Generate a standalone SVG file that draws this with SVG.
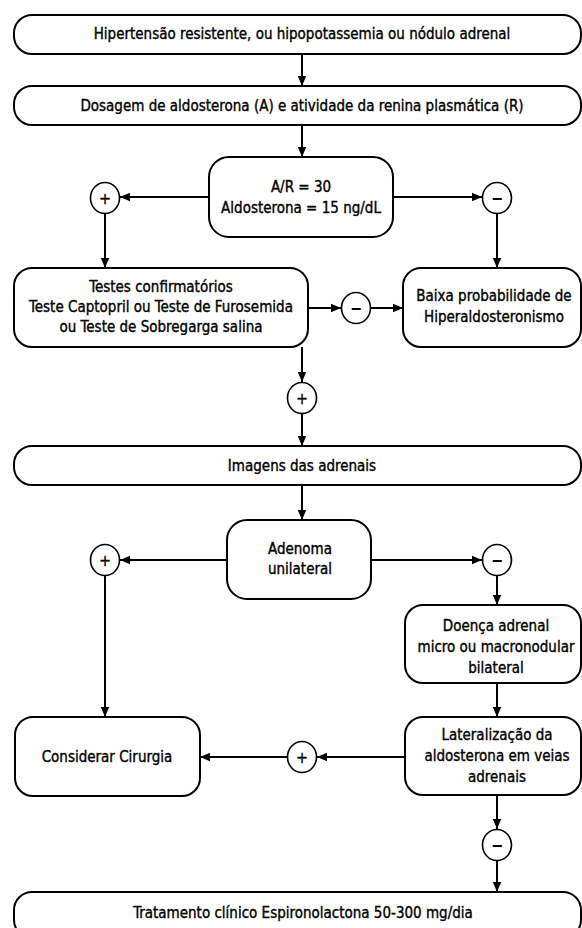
<svg xmlns="http://www.w3.org/2000/svg" width="582" height="928" viewBox="0 0 582 928">
<defs>
<marker id="ah" markerUnits="userSpaceOnUse" markerWidth="10" markerHeight="10" refX="10" refY="5" orient="auto">
<path d="M0,0.8 L10,5 L0,9.2 z" fill="#000"/>
</marker>
<style>
.box{fill:#fff;stroke:#000;stroke-width:2}
.sym{fill:#fff;stroke:#000;stroke-width:1.6}
.t{font-family:'DejaVu Sans Condensed','DejaVu Sans',sans-serif;font-stretch:condensed;font-size:15px;fill:#000;stroke:#000;stroke-width:0.35;text-anchor:middle}
.s{font-family:'DejaVu Sans Condensed','DejaVu Sans',sans-serif;font-size:16px;fill:#000;stroke:#000;stroke-width:0.3;text-anchor:middle}
.m{font-family:'DejaVu Sans Condensed','DejaVu Sans',sans-serif;font-size:16px;font-weight:bold;fill:#000;text-anchor:middle}
.c{fill:none;stroke:#000;stroke-width:2;marker-end:url(#ah)}
</style>
</defs>
<rect width="582" height="928" fill="#fff"/>
<g id="connectors">
<line class="c" x1="302" y1="54" x2="302" y2="86"/>
<line class="c" x1="302" y1="125" x2="302" y2="157"/>
<line class="c" x1="209" y1="197" x2="120" y2="197"/>
<line class="c" x1="393" y1="197" x2="482" y2="197"/>
<line class="c" x1="105" y1="214" x2="105" y2="268"/>
<line class="c" x1="497" y1="214" x2="497" y2="268"/>
<line class="c" x1="308" y1="308" x2="341" y2="308"/>
<line class="c" x1="371" y1="308" x2="403" y2="308"/>
<line class="c" x1="302" y1="347" x2="302" y2="382"/>
<line class="c" x1="302" y1="414" x2="302" y2="446"/>
<line class="c" x1="302" y1="485" x2="302" y2="520"/>
<line class="c" x1="227" y1="560" x2="120" y2="560"/>
<line class="c" x1="371" y1="560" x2="482" y2="560"/>
<line class="c" x1="105" y1="576" x2="105" y2="717"/>
<line class="c" x1="497" y1="576" x2="497" y2="605"/>
<line class="c" x1="497" y1="683" x2="497" y2="717"/>
<line class="c" x1="405" y1="757" x2="317" y2="757"/>
<line class="c" x1="287" y1="757" x2="200" y2="757"/>
<line class="c" x1="497" y1="795" x2="497" y2="829"/>
<line class="c" x1="497" y1="861" x2="497" y2="892"/>
</g>
<g id="n1"><rect class="box" x="14" y="15" width="567" height="39" rx="18"/><text class="t" x="302" y="39">Hipertensão resistente, ou hipopotassemia ou nódulo adrenal</text></g>
<g id="n2"><rect class="box" x="14" y="86" width="567" height="39" rx="18"/><text class="t" x="302" y="111">Dosagem de aldosterona (A) e atividade da renina plasmática (R)</text></g>
<g id="n3"><rect class="box" x="209" y="157" width="184" height="80" rx="20"/><text class="t" x="301" y="192">A/R = 30</text><text class="t" x="301" y="213">Aldosterona = 15 ng/dL</text></g>
<g id="p1"><ellipse class="sym" cx="105" cy="198" rx="14.5" ry="15.5"/><text class="s" x="105" y="204">+</text></g>
<g id="m1"><ellipse class="sym" cx="497" cy="198" rx="14.5" ry="15.5"/><text class="m" x="497" y="204">−</text></g>
<g id="n4"><rect class="box" x="14" y="268" width="294" height="79" rx="18"/><text class="t" x="161" y="292">Testes confirmatórios</text><text class="t" x="161" y="312">Teste Captopril ou Teste de Furosemida</text><text class="t" x="161" y="332">ou Teste de Sobregarga salina</text></g>
<g id="m2"><ellipse class="sym" cx="356" cy="308" rx="14.5" ry="15.5"/><text class="m" x="356" y="314">−</text></g>
<g id="n5"><rect class="box" x="403" y="268" width="178" height="79" rx="18"/><text class="t" x="494" y="301">Baixa probabilidade de</text><text class="t" x="494" y="322">Hiperaldosteronismo</text></g>
<g id="p2"><ellipse class="sym" cx="302" cy="398" rx="14.5" ry="15.5"/><text class="s" x="302" y="404">+</text></g>
<g id="n6"><rect class="box" x="14" y="446" width="567" height="39" rx="18"/><text class="t" x="302" y="471">Imagens das adrenais</text></g>
<g id="n7"><rect class="box" x="227" y="520" width="144" height="79" rx="20"/><text class="t" x="300" y="554">Adenoma</text><text class="t" x="300" y="574">unilateral</text></g>
<g id="p3"><ellipse class="sym" cx="105" cy="560" rx="14.5" ry="15.5"/><text class="s" x="105" y="566">+</text></g>
<g id="m3"><ellipse class="sym" cx="497" cy="560" rx="14.5" ry="15.5"/><text class="m" x="497" y="566">−</text></g>
<g id="n8"><rect class="box" x="405" y="605" width="176" height="78" rx="18"/><text class="t" x="496" y="631">Doença adrenal</text><text class="t" x="496" y="652">micro ou macronodular</text><text class="t" x="496" y="673">bilateral</text></g>
<g id="n9"><rect class="box" x="405" y="717" width="176" height="78" rx="18"/><text class="t" x="497" y="740">Lateralização da</text><text class="t" x="497" y="761">aldosterona em veias</text><text class="t" x="497" y="782">adrenais</text></g>
<g id="n10"><rect class="box" x="15" y="717" width="185" height="79" rx="18"/><text class="t" x="107" y="762">Considerar Cirurgia</text></g>
<g id="p4"><ellipse class="sym" cx="302" cy="757" rx="14.5" ry="15.5"/><text class="s" x="302" y="763">+</text></g>
<g id="m4"><ellipse class="sym" cx="497" cy="845" rx="14.5" ry="15.5"/><text class="m" x="497" y="851">−</text></g>
<g id="n11"><rect class="box" x="14" y="892" width="567" height="46" rx="18"/><text class="t" x="303" y="918">Tratamento clínico Espironolactona 50-300 mg/dia</text></g>
</svg>
